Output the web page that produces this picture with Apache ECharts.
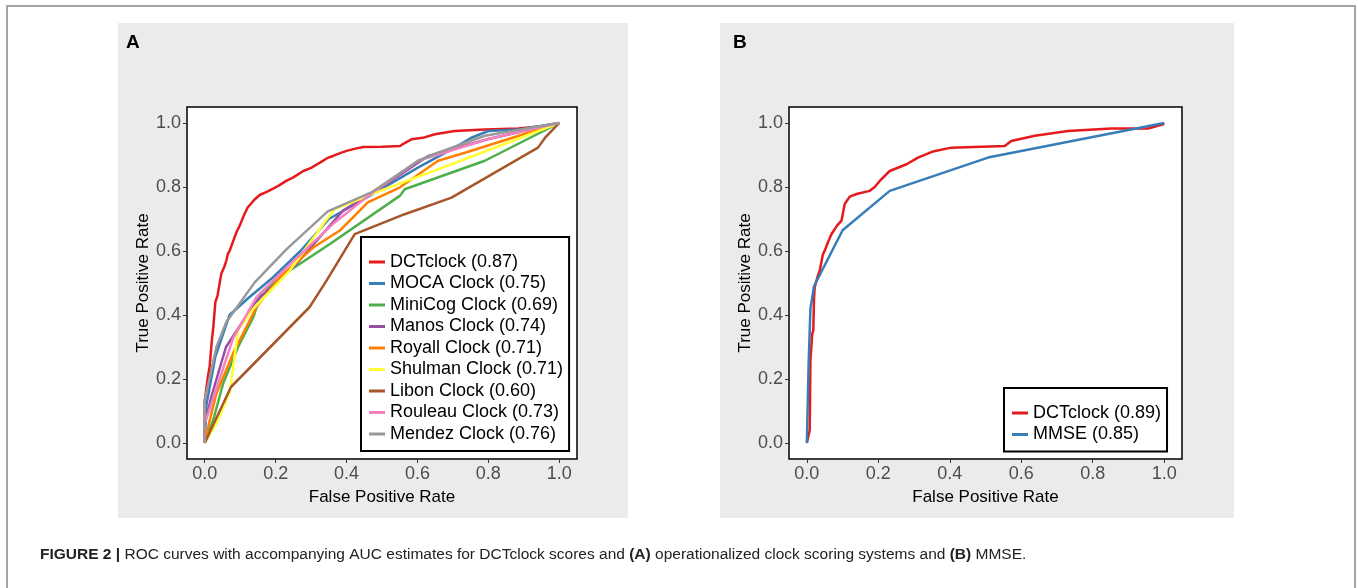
<!DOCTYPE html>
<html lang="en">
<head>
<meta charset="UTF-8">
<title>ROC curves</title>
<style>
  html, body { margin: 0; padding: 0; background: #fff; }
  #main { width: 1358px; height: 588px; }
</style>
</head>
<body>
<div id="main"></div>
<script src="https://cdn.jsdelivr.net/npm/echarts@6/dist/echarts.min.js"></script>
<script>
const chart = echarts.init(document.getElementById('main'));
const FONT = '"Liberation Sans", Arial, sans-serif';

// tick values shared by both panels
const ticks = [0, 0.2, 0.4, 0.6, 0.8, 1.0];

// panel A: [false positive rate, true positive rate]
const dctA = [[0,0],[0,0.13],[0.008,0.2],[0.014,0.24],[0.02,0.32],[0.024,0.36],[0.03,0.44],[0.036,0.46],[0.047,0.53],[0.055,0.55],[0.061,0.57],[0.065,0.59],[0.07,0.6],[0.08,0.63],[0.09,0.66],[0.099,0.68],[0.11,0.71],[0.121,0.736],[0.14,0.76],[0.155,0.775],[0.175,0.785],[0.193,0.795],[0.21,0.805],[0.231,0.82],[0.25,0.83],[0.278,0.85],[0.3,0.86],[0.325,0.876],[0.345,0.89],[0.362,0.897],[0.38,0.905],[0.4,0.913],[0.425,0.92],[0.447,0.925],[0.5,0.926],[0.551,0.928],[0.56,0.935],[0.583,0.949],[0.62,0.955],[0.649,0.965],[0.705,0.975],[0.79,0.98],[0.884,0.983],[0.95,0.99],[1,1]];
const mocaA = [[0,0],[0.005,0.12],[0.03,0.27],[0.07,0.4],[0.12,0.45],[0.193,0.518],[0.27,0.6],[0.35,0.7],[0.47,0.775],[0.6,0.86],[0.7,0.92],[0.752,0.954],[0.8,0.975],[0.887,0.98],[1,1]];
const minicogA = [[0,0],[0.024,0.072],[0.052,0.186],[0.094,0.3],[0.137,0.393],[0.16,0.471],[0.24,0.539],[0.353,0.622],[0.551,0.773],[0.564,0.793],[0.79,0.882],[1,1]];
const manosA = [[0,0],[0,0.06],[0.02,0.15],[0.06,0.3],[0.146,0.445],[0.259,0.56],[0.39,0.726],[0.5,0.8],[0.63,0.897],[0.8,0.95],[1,1]];
const royallA = [[0,0],[0.014,0.07],[0.033,0.155],[0.08,0.28],[0.146,0.425],[0.212,0.518],[0.306,0.611],[0.381,0.664],[0.46,0.752],[0.551,0.799],[0.658,0.882],[0.734,0.907],[1,1]];
const shulmanA = [[0,0],[0.033,0.061],[0.071,0.16],[0.094,0.352],[0.137,0.42],[0.24,0.539],[0.338,0.69],[0.366,0.73],[0.5,0.79],[0.696,0.871],[1,1]];
const libonA = [[0,0],[0.074,0.175],[0.296,0.425],[0.344,0.508],[0.423,0.653],[0.564,0.715],[0.696,0.767],[0.94,0.923],[0.96,0.954],[1,1]];
const rouleauA = [[0,0],[0,0.06],[0.024,0.14],[0.08,0.327],[0.146,0.456],[0.231,0.549],[0.362,0.685],[0.47,0.78],[0.602,0.882],[0.8,0.95],[1,1]];
const mendezA = [[0,0],[0,0.134],[0.033,0.3],[0.061,0.378],[0.141,0.502],[0.231,0.606],[0.347,0.724],[0.47,0.783],[0.602,0.882],[0.658,0.907],[0.79,0.96],[1,1]];

// panel B
const dctB = [[0,0],[0.008,0.04],[0.01,0.26],[0.013,0.259],[0.015,0.34],[0.018,0.352],[0.02,0.45],[0.022,0.487],[0.03,0.52],[0.036,0.539],[0.045,0.59],[0.05,0.601],[0.06,0.63],[0.069,0.653],[0.085,0.68],[0.097,0.695],[0.106,0.747],[0.12,0.77],[0.139,0.778],[0.176,0.788],[0.19,0.8],[0.204,0.819],[0.232,0.85],[0.279,0.871],[0.311,0.892],[0.35,0.91],[0.404,0.923],[0.554,0.928],[0.572,0.944],[0.638,0.96],[0.731,0.975],[0.852,0.983],[0.955,0.983],[0.997,0.996],[1,1]];
const mmseB = [[0,0],[0.005,0.25],[0.01,0.42],[0.02,0.49],[0.1,0.665],[0.232,0.788],[0.507,0.892],[1,1]];

const namesA = ['DCTclock (0.87)', 'MOCA Clock (0.75)', 'MiniCog Clock (0.69)', 'Manos Clock (0.74)', 'Royall Clock (0.71)', 'Shulman Clock (0.71)', 'Libon Clock (0.60)', 'Rouleau Clock (0.73)', 'Mendez Clock (0.76)'];
const dataA = [dctA, mocaA, minicogA, manosA, royallA, shulmanA, libonA, rouleauA, mendezA];
const colorsA = ['#E41A1C', '#377EB8', '#4DAF4A', '#984EA3', '#FF7F00', '#FFFF33', '#A65628', '#F781BF', '#999999'];
const namesB = ['DCTclock (0.89)', 'MMSE (0.85)'];
const dataB = [dctB, mmseB];
const colorsB = ['#E41A1C', '#377EB8'];

function xAxisOf(idx) {
  return {
    type: 'value', gridIndex: idx, min: -0.05, max: 1.05,
    name: 'False Positive Rate', nameLocation: 'middle', nameGap: 30,
    nameTextStyle: { color: '#000', fontSize: 17, fontFamily: FONT },
    axisLine: { show: false, onZero: false }, splitLine: { show: false },
    axisTick: { show: true, length: 4, lineStyle: { color: '#333' }, customValues: ticks },
    axisLabel: { customValues: ticks, formatter: v => v.toFixed(1), color: '#4d4d4d', fontSize: 18, fontFamily: FONT, margin: 6 }
  };
}
function yAxisOf(idx) {
  return {
    type: 'value', gridIndex: idx, min: -0.05, max: 1.05,
    name: 'True Positive Rate', nameLocation: 'middle', nameGap: 34, nameRotate: 90,
    nameTextStyle: { color: '#000', fontSize: 17, fontFamily: FONT },
    axisLine: { show: false, onZero: false }, splitLine: { show: false },
    axisTick: { show: true, length: 4, lineStyle: { color: '#333' }, customValues: ticks },
    axisLabel: { customValues: ticks, formatter: v => v.toFixed(1), color: '#4d4d4d', fontSize: 18, fontFamily: FONT, margin: 6 }
  };
}
function legendOf(names, left, top) {
  return {
    data: names, orient: 'vertical', left: left, top: top,
    icon: 'rect', itemWidth: 16, itemHeight: 3, itemGap: 3.5,
    padding: [16, 6, 8, 8],
    backgroundColor: '#fff', borderColor: '#000', borderWidth: 2,
    textStyle: { color: '#000', fontSize: 18, fontFamily: FONT, lineHeight: 18 }
  };
}

const series = [];
dataA.forEach((d, i) => series.push({
  name: namesA[i], type: 'line', xAxisIndex: 0, yAxisIndex: 0, data: d,
  symbol: 'none', lineStyle: { width: 2.5, color: colorsA[i] }, itemStyle: { color: colorsA[i] }
}));
dataB.forEach((d, i) => series.push({
  name: namesB[i], type: 'line', xAxisIndex: 1, yAxisIndex: 1, data: d,
  symbol: 'none', lineStyle: { width: 2.5, color: colorsB[i] }, itemStyle: { color: colorsB[i] }
}));

chart.setOption({
  animation: false,
  grid: [
    { left: 187, top: 107, width: 390, height: 352, show: true, backgroundColor: '#fff', borderColor: '#000', borderWidth: 1.5 },
    { left: 789, top: 107, width: 393, height: 352, show: true, backgroundColor: '#fff', borderColor: '#000', borderWidth: 1.5 }
  ],
  xAxis: [xAxisOf(0), xAxisOf(1)],
  yAxis: [yAxisOf(0), yAxisOf(1)],
  legend: [legendOf(namesA, 361, 237), legendOf(namesB, 1004, 388)],
  graphic: [
    { type: 'rect', z: -10, shape: { x: 7, y: 6, width: 1348, height: 600 }, style: { fill: '#fff', stroke: '#888', lineWidth: 1.5 } },
    { type: 'rect', z: -9, shape: { x: 118, y: 23, width: 510, height: 495 }, style: { fill: '#EBEBEB' } },
    { type: 'rect', z: -9, shape: { x: 720, y: 23, width: 514, height: 495 }, style: { fill: '#EBEBEB' } },
    { type: 'text', left: 126, top: 33, style: { text: 'A', font: 'bold 19px ' + FONT, fill: '#000' } },
    { type: 'text', left: 733, top: 33, style: { text: 'B', font: 'bold 19px ' + FONT, fill: '#000' } },
    { type: 'text', left: 40, top: 547, style: {
      text: '{b|FIGURE 2 |} ROC curves with accompanying AUC estimates for DCTclock scores and {b|(A)} operationalized clock scoring systems and {b|(B)} MMSE.',
      fontSize: 15.5, fontFamily: FONT, fill: '#222',
      rich: { b: { fontSize: 15.5, fontFamily: FONT, fontWeight: 'bold', fill: '#222' } }
    } }
  ],
  series: series
});
</script>
</body>
</html>
